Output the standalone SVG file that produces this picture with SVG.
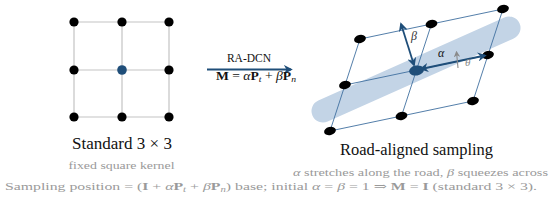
<svg xmlns="http://www.w3.org/2000/svg" width="550" height="204" viewBox="0 0 550 204" font-family="'Liberation Serif', 'DejaVu Serif', serif">
<defs>
<style>
text{font-family:'Liberation Serif','DejaVu Serif',serif}
.title{font-size:16.5px;fill:#111;text-anchor:middle}
.note{font-size:11px;fill:#9a9a9a}
.gline{stroke:#c4c4c4;stroke-width:1.2;fill:none}
.sline{stroke:#3f6f9f;stroke-width:0.9;fill:none}
.dot{fill:#000}
.blue{fill:#1f4e79}
.arr{stroke:#1f4e79;stroke-width:1.8;fill:none}
.b{font-weight:bold;font-style:normal}
.i{font-style:italic}
</style>
<marker id="ah" viewBox="0 0 10 10" refX="8" refY="5" markerWidth="5" markerHeight="5" orient="auto-start-reverse" markerUnits="strokeWidth">
<path d="M0,0 L10,5 L0,10 L3,5 Z" fill="#1f4e79"/>
</marker>
<marker id="ahg" viewBox="0 0 10 10" refX="8" refY="5" markerWidth="6" markerHeight="6" orient="auto" markerUnits="strokeWidth">
<path d="M0,0 L10,5 L0,10 L3,5 Z" fill="#8a8a8a"/>
</marker>
</defs>
<rect width="550" height="204" fill="#fff"/>

<g id="standard-grid">
<path class="gline" d="M74,22H169M74,70H169M74,117H169M74,22V117M122,22V117M169,22V117"/>
<circle class="dot" cx="74" cy="22" r="4.6"/>
<circle class="dot" cx="122" cy="22" r="4.6"/>
<circle class="dot" cx="169" cy="22" r="4.6"/>
<circle class="dot" cx="74" cy="70" r="4.6"/>
<circle class="blue" cx="122" cy="70" r="4.8"/>
<circle class="dot" cx="169" cy="70" r="4.6"/>
<circle class="dot" cx="74" cy="117" r="4.6"/>
<circle class="dot" cx="122" cy="117" r="4.6"/>
<circle class="dot" cx="169" cy="117" r="4.6"/>
<text class="title" x="122" y="149" textLength="100" lengthAdjust="spacingAndGlyphs">Standard 3 × 3</text>
<text class="note" x="121.5" y="169" text-anchor="middle" textLength="106" lengthAdjust="spacingAndGlyphs">fixed square kernel</text>
</g>

<g id="connectors">
<line class="arr" x1="207" y1="69.5" x2="291" y2="69.5" stroke-width="2" marker-end="url(#ah)"/>
</g>
<g id="transform-label">
<text x="249" y="62" font-size="11.5" text-anchor="middle" fill="#111">RA-DCN</text>
<text x="256" y="80" font-size="12" text-anchor="middle" fill="#111" textLength="80" lengthAdjust="spacingAndGlyphs"><tspan class="b">M</tspan> = <tspan class="i">α</tspan><tspan class="b">P</tspan><tspan class="i" font-size="8.5" dy="2">t</tspan><tspan dy="-2"> + </tspan><tspan class="i">β</tspan><tspan class="b">P</tspan><tspan class="i" font-size="8.5" dy="2">n</tspan></text>
</g>

<g id="road-aligned-grid">
<line x1="323" y1="111" x2="509" y2="28" stroke="#c3d4e6" stroke-width="23" stroke-linecap="round"/>
<path class="sline" d="M360,39L431.5,24L503,9M345,85L416.5,70L488,55M330,131L401.5,116L473,101M360,39L345,85L330,131M431.5,24L416.5,70L401.5,116M503,9L488,55L473,101"/>
<ellipse class="dot" cx="360" cy="39" rx="6" ry="4" transform="rotate(-14 360 39)"/>
<ellipse class="dot" cx="431.5" cy="24" rx="6" ry="4" transform="rotate(-14 431.5 24)"/>
<ellipse class="dot" cx="503" cy="9" rx="6" ry="4" transform="rotate(-14 503 9)"/>
<ellipse class="dot" cx="345" cy="85" rx="6" ry="4" transform="rotate(-14 345 85)"/>
<ellipse class="dot" cx="488" cy="55" rx="6" ry="4" transform="rotate(-14 488 55)"/>
<ellipse class="dot" cx="330" cy="131" rx="6" ry="4" transform="rotate(-14 330 131)"/>
<ellipse class="dot" cx="401.5" cy="116" rx="6" ry="4" transform="rotate(-14 401.5 116)"/>
<ellipse class="dot" cx="473" cy="101" rx="6" ry="4" transform="rotate(-14 473 101)"/>
<ellipse class="blue" cx="416.5" cy="70.5" rx="7.5" ry="5" transform="rotate(-10 416.5 70.5)"/>
<line class="arr" x1="414" y1="65" x2="401" y2="24" marker-start="url(#ah)" marker-end="url(#ah)"/>
<line class="arr" x1="421" y1="69" x2="485" y2="55.5" marker-start="url(#ah)" marker-end="url(#ah)"/>
<line x1="458" y1="68" x2="456.5" y2="52" stroke="#8a8a8a" stroke-width="1.1" marker-end="url(#ahg)"/>
<text class="i" x="411" y="40" font-size="12" fill="#333">β</text>
<text class="i" x="438" y="57" font-size="12" fill="#111">α</text>
<text class="i" x="465" y="66" font-size="11" fill="#8a8a8a">θ</text>
<text class="title" x="416.5" y="155" textLength="153" lengthAdjust="spacingAndGlyphs">Road-aligned sampling</text>
<text class="note" x="420.5" y="176" text-anchor="middle" textLength="255" lengthAdjust="spacingAndGlyphs"><tspan class="i">α</tspan> stretches along the road, <tspan class="i">β</tspan> squeezes across</text>
</g>

<g id="footnote">
<text class="note" x="5" y="189.5" textLength="532" lengthAdjust="spacingAndGlyphs">Sampling position = (<tspan class="b">I</tspan> + <tspan class="i">α</tspan><tspan class="b">P</tspan><tspan class="i" font-size="7.5" dy="2">t</tspan><tspan dy="-2"> + </tspan><tspan class="i">β</tspan><tspan class="b">P</tspan><tspan class="i" font-size="7.5" dy="2">n</tspan><tspan dy="-2">) base; initial </tspan><tspan class="i">α</tspan> = <tspan class="i">β</tspan> = 1 ⇒ <tspan class="b">M</tspan> = <tspan class="b">I</tspan> (standard 3 × 3).</text>
</g>
</svg>
